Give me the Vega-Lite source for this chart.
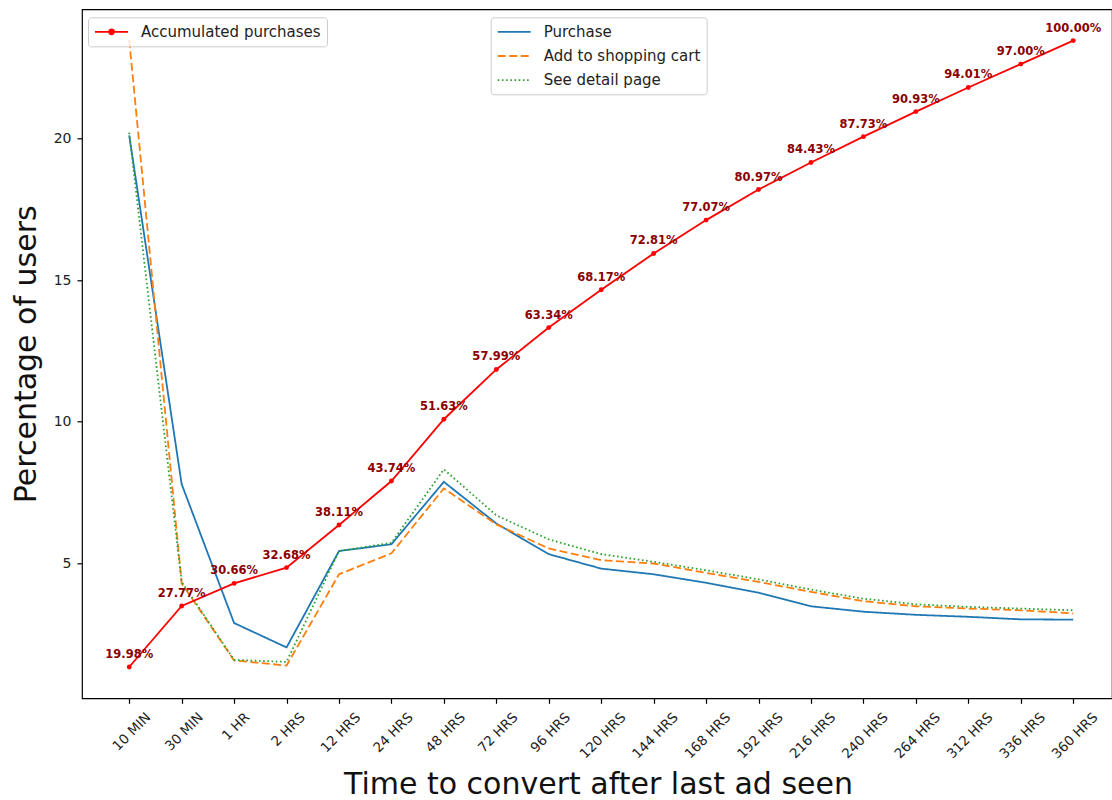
{
  "$schema": "https://vega.github.io/schema/vega-lite/v6.json",
  "width": 1030,
  "height": 689,
  "autosize": {"type": "none"},
  "padding": {"left": 82, "top": 9.3, "right": 0, "bottom": 101.7},
  "background": "white",
  "config": {
    "font": "DejaVu Sans",
    "view": {"stroke": "black", "strokeWidth": 1.2},
    "axis": {"grid": false, "domain": false, "tickColor": "black", "tickWidth": 1.2, "tickSize": 5, "labelColor": "#222", "titleColor": "#111", "titleFontWeight": "normal", "titleFontSize": 30}
  },
  "datasets": {
    "lines": [
      {"time": "10 MIN", "series": "Purchase", "value": 20.1},
      {"time": "30 MIN", "series": "Purchase", "value": 7.8},
      {"time": "1 HR", "series": "Purchase", "value": 2.9},
      {"time": "2 HRS", "series": "Purchase", "value": 2.04},
      {"time": "12 HRS", "series": "Purchase", "value": 5.44},
      {"time": "24 HRS", "series": "Purchase", "value": 5.68},
      {"time": "48 HRS", "series": "Purchase", "value": 7.88},
      {"time": "72 HRS", "series": "Purchase", "value": 6.41},
      {"time": "96 HRS", "series": "Purchase", "value": 5.33},
      {"time": "120 HRS", "series": "Purchase", "value": 4.82},
      {"time": "144 HRS", "series": "Purchase", "value": 4.62},
      {"time": "168 HRS", "series": "Purchase", "value": 4.32},
      {"time": "192 HRS", "series": "Purchase", "value": 3.97},
      {"time": "216 HRS", "series": "Purchase", "value": 3.49},
      {"time": "240 HRS", "series": "Purchase", "value": 3.3},
      {"time": "264 HRS", "series": "Purchase", "value": 3.19},
      {"time": "312 HRS", "series": "Purchase", "value": 3.12},
      {"time": "336 HRS", "series": "Purchase", "value": 3.03},
      {"time": "360 HRS", "series": "Purchase", "value": 3.02},
      {"time": "10 MIN", "series": "Add to shopping cart", "value": 23.47},
      {"time": "30 MIN", "series": "Add to shopping cart", "value": 4.3},
      {"time": "1 HR", "series": "Add to shopping cart", "value": 1.58},
      {"time": "2 HRS", "series": "Add to shopping cart", "value": 1.4},
      {"time": "12 HRS", "series": "Add to shopping cart", "value": 4.62},
      {"time": "24 HRS", "series": "Add to shopping cart", "value": 5.36},
      {"time": "48 HRS", "series": "Add to shopping cart", "value": 7.65},
      {"time": "72 HRS", "series": "Add to shopping cart", "value": 6.38},
      {"time": "96 HRS", "series": "Add to shopping cart", "value": 5.53},
      {"time": "120 HRS", "series": "Add to shopping cart", "value": 5.12},
      {"time": "144 HRS", "series": "Add to shopping cart", "value": 5.0},
      {"time": "168 HRS", "series": "Add to shopping cart", "value": 4.67},
      {"time": "192 HRS", "series": "Add to shopping cart", "value": 4.35},
      {"time": "216 HRS", "series": "Add to shopping cart", "value": 4.0},
      {"time": "240 HRS", "series": "Add to shopping cart", "value": 3.67},
      {"time": "264 HRS", "series": "Add to shopping cart", "value": 3.49},
      {"time": "312 HRS", "series": "Add to shopping cart", "value": 3.41},
      {"time": "336 HRS", "series": "Add to shopping cart", "value": 3.35},
      {"time": "360 HRS", "series": "Add to shopping cart", "value": 3.24},
      {"time": "10 MIN", "series": "See detail page", "value": 20.2},
      {"time": "30 MIN", "series": "See detail page", "value": 4.35},
      {"time": "1 HR", "series": "See detail page", "value": 1.6},
      {"time": "2 HRS", "series": "See detail page", "value": 1.53},
      {"time": "12 HRS", "series": "See detail page", "value": 5.44},
      {"time": "24 HRS", "series": "See detail page", "value": 5.73},
      {"time": "48 HRS", "series": "See detail page", "value": 8.32},
      {"time": "72 HRS", "series": "See detail page", "value": 6.7},
      {"time": "96 HRS", "series": "See detail page", "value": 5.85},
      {"time": "120 HRS", "series": "See detail page", "value": 5.33},
      {"time": "144 HRS", "series": "See detail page", "value": 5.06},
      {"time": "168 HRS", "series": "See detail page", "value": 4.76},
      {"time": "192 HRS", "series": "See detail page", "value": 4.44},
      {"time": "216 HRS", "series": "See detail page", "value": 4.08},
      {"time": "240 HRS", "series": "See detail page", "value": 3.76},
      {"time": "264 HRS", "series": "See detail page", "value": 3.56},
      {"time": "312 HRS", "series": "See detail page", "value": 3.47},
      {"time": "336 HRS", "series": "See detail page", "value": 3.41},
      {"time": "360 HRS", "series": "See detail page", "value": 3.35}
    ],
    "acc": [
      {"time": "10 MIN", "name": "Accumulated purchases", "pct": 19.98, "label": "19.98%"},
      {"time": "30 MIN", "name": "Accumulated purchases", "pct": 27.77, "label": "27.77%"},
      {"time": "1 HR", "name": "Accumulated purchases", "pct": 30.66, "label": "30.66%"},
      {"time": "2 HRS", "name": "Accumulated purchases", "pct": 32.68, "label": "32.68%"},
      {"time": "12 HRS", "name": "Accumulated purchases", "pct": 38.11, "label": "38.11%"},
      {"time": "24 HRS", "name": "Accumulated purchases", "pct": 43.74, "label": "43.74%"},
      {"time": "48 HRS", "name": "Accumulated purchases", "pct": 51.63, "label": "51.63%"},
      {"time": "72 HRS", "name": "Accumulated purchases", "pct": 57.99, "label": "57.99%"},
      {"time": "96 HRS", "name": "Accumulated purchases", "pct": 63.34, "label": "63.34%"},
      {"time": "120 HRS", "name": "Accumulated purchases", "pct": 68.17, "label": "68.17%"},
      {"time": "144 HRS", "name": "Accumulated purchases", "pct": 72.81, "label": "72.81%"},
      {"time": "168 HRS", "name": "Accumulated purchases", "pct": 77.07, "label": "77.07%"},
      {"time": "192 HRS", "name": "Accumulated purchases", "pct": 80.97, "label": "80.97%"},
      {"time": "216 HRS", "name": "Accumulated purchases", "pct": 84.43, "label": "84.43%"},
      {"time": "240 HRS", "name": "Accumulated purchases", "pct": 87.73, "label": "87.73%"},
      {"time": "264 HRS", "name": "Accumulated purchases", "pct": 90.93, "label": "90.93%"},
      {"time": "312 HRS", "name": "Accumulated purchases", "pct": 94.01, "label": "94.01%"},
      {"time": "336 HRS", "name": "Accumulated purchases", "pct": 97.0, "label": "97.00%"},
      {"time": "360 HRS", "name": "Accumulated purchases", "pct": 100.0, "label": "100.00%"}
    ]
  },
  "encoding": {
    "x": {
      "field": "time",
      "type": "ordinal",
      "sort": ["10 MIN", "30 MIN", "1 HR", "2 HRS", "12 HRS", "24 HRS", "48 HRS", "72 HRS", "96 HRS", "120 HRS", "144 HRS", "168 HRS", "192 HRS", "216 HRS", "240 HRS", "264 HRS", "312 HRS", "336 HRS", "360 HRS"],
      "scale": {"type": "point", "padding": 0.82, "align": 0.549},
      "axis": {
        "title": "Time to convert after last ad seen",
        "labelAngle": -45,
        "labelAlign": "right",
        "labelBaseline": "top",
        "labelFontSize": 13.5,
        "labelPadding": 6.5,
        "labelOffset": {"expr": "length(datum.label) * 3 - 4"},
        "labelOverlap": false,
        "labelBound": false,
        "titleBaseline": "alphabetic",
        "titleAlign": "center",
        "titleX": 516,
        "titleY": 95.5
      }
    }
  },
  "layer": [
    {
      "data": {"name": "lines"},
      "mark": {"type": "line", "strokeWidth": 1.8},
      "encoding": {
        "y": {
          "field": "value",
          "type": "quantitative",
          "scale": {"domain": [0.245, 24.55], "nice": false, "zero": false},
          "axis": {
            "values": [5, 10, 15, 20],
            "title": "Percentage of users",
            "labelFontSize": 14,
            "labelPadding": 6,
            "titleAngle": 270,
            "titleBaseline": "alphabetic",
            "titleAlign": "center",
            "titleX": -47,
            "titleY": 344.5
          }
        },
        "color": {
          "field": "series",
          "type": "nominal",
          "scale": {"domain": ["Purchase", "Add to shopping cart", "See detail page"], "range": ["#1f77b4", "#ff7f0e", "#2ca02c"]},
          "legend": {
            "orient": "none", "legendX": 408.7, "legendY": 8, "title": null,
            "symbolType": "M-1,0L3.4,0",
            "symbolSize": 225, "symbolStrokeWidth": 1.8, "labelFontSize": 15, "labelOffset": 30,
            "labelColor": "#222", "labelLimit": 300, "rowPadding": 7.2, "padding": 6,
            "strokeColor": "#cccccc", "fillColor": "rgba(255,255,255,0.8)", "cornerRadius": 3,
            "encode": {
              "symbols": {
                "update": {
                  "strokeDash": [
                    {"test": "datum.value === 'Add to shopping cart'", "value": [8, 3.5]},
                    {"test": "datum.value === 'See detail page'", "value": [1.6, 2.6]},
                    {"value": [1, 0]}
                  ]
                }
              }
            }
          }
        },
        "strokeDash": {
          "field": "series",
          "type": "nominal",
          "scale": {"domain": ["Purchase", "Add to shopping cart", "See detail page"], "range": [[1, 0], [8, 3.5], [1.6, 2.6]]},
          "legend": null
        }
      }
    },
    {
      "data": {"name": "acc"},
      "encoding": {
        "y": {"field": "pct", "type": "quantitative", "scale": {"domain": [15.98, 104.0], "nice": false, "zero": false}, "axis": null}
      },
      "layer": [
        {
          "mark": {"type": "line", "strokeWidth": 1.8, "point": {"filled": true, "size": 24}},
          "encoding": {
            "color": {
              "field": "name",
              "type": "nominal",
              "scale": {"range": ["#ff0000"]},
              "legend": {
                "orient": "none", "legendX": 6, "legendY": 8, "title": null,
                "symbolType": "M-1,0L3.4,0M0.87,0A0.33,0.33,0,1,1,1.53,0A0.33,0.33,0,1,1,0.87,0",
                "symbolSize": 225, "symbolStrokeWidth": 1.8, "symbolFillColor": "#ff0000", "symbolStrokeColor": "#ff0000",
                "labelFontSize": 15, "labelOffset": 30, "labelColor": "#222", "labelLimit": 300, "padding": 6,
                "strokeColor": "#cccccc", "fillColor": "rgba(255,255,255,0.8)", "cornerRadius": 3
              }
            }
          }
        },
        {
          "mark": {"type": "text", "dy": -9, "baseline": "alphabetic", "align": "center", "fontWeight": "bold", "fontSize": 11.5, "color": "#8b0000"},
          "encoding": {"text": {"field": "label", "type": "nominal"}}
        }
      ]
    }
  ],
  "resolve": {"scale": {"y": "independent", "color": "independent"}}
}
